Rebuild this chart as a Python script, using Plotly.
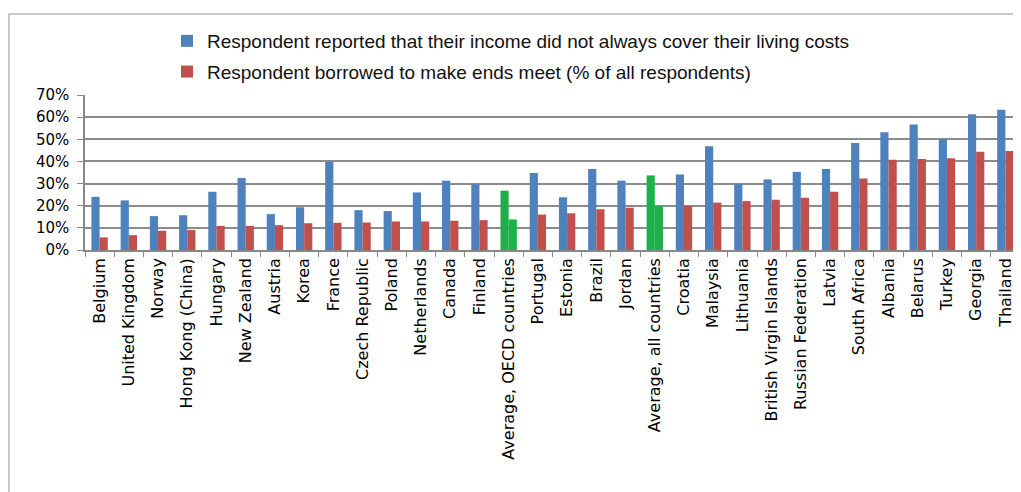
import plotly.graph_objects as go

categories = ["Belgium", "United Kingdom", "Norway", "Hong Kong (China)", "Hungary", "New Zealand",
              "Austria", "Korea", "France", "Czech Republic", "Poland", "Netherlands", "Canada",
              "Finland", "Average, OECD countries", "Portugal", "Estonia", "Brazil", "Jordan",
              "Average, all countries", "Croatia", "Malaysia", "Lithuania", "British Virgin Islands",
              "Russian Federation", "Latvia", "South Africa", "Albania", "Belarus", "Turkey",
              "Georgia", "Thailand"]
income_not_cover = [24.0, 22.4, 15.3, 15.7, 26.3, 32.5, 16.2, 19.3, 39.8, 18.0, 17.6, 26.0, 31.3,
                    29.8, 26.8, 34.8, 23.8, 36.6, 31.3, 33.7, 34.1, 46.8, 29.8, 31.9, 35.3, 36.6,
                    48.3, 53.2, 56.7, 50.0, 61.3, 63.3]
borrowed = [5.7, 6.7, 8.7, 9.0, 10.9, 10.9, 11.2, 12.1, 12.3, 12.4, 12.9, 12.9, 13.2, 13.5, 13.8,
            16.0, 16.6, 18.4, 19.1, 19.9, 19.9, 21.4, 22.1, 22.7, 23.6, 26.3, 32.3, 40.8, 41.1,
            41.4, 44.4, 44.7]
series_names = ["Respondent reported that their income did not always cover their living costs",
                "Respondent borrowed to make ends meet (% of all respondents)"]

BLUE, RED, GREEN = "#4F81BD", "#C0504D", "#1DB14B"
blue_cols = [GREEN if c.startswith("Average") else BLUE for c in categories]
red_cols = [GREEN if c.startswith("Average") else RED for c in categories]

fig = go.Figure()
fig.add_trace(go.Bar(x=categories, y=[v / 100 for v in income_not_cover], name=series_names[0],
                     marker=dict(color=blue_cols, line=dict(width=0)), legendgroup="a"))
fig.add_trace(go.Bar(x=categories, y=[v / 100 for v in borrowed], name=series_names[1],
                     marker=dict(color=red_cols, line=dict(width=0)), legendgroup="b"))

# page body has an 8px margin, so figure coords = screen coords - 8
W, H = 1013, 484
L, R, T, B = 77, 1012, 87, 242
pw, ph = R - L, B - T

def px(x):
    return (x - L) / pw

def py(y):
    return (B - y) / ph

fig.update_layout(
    width=W, height=H,
    margin=dict(l=L, r=W - R, t=T, b=H - B, autoexpand=False),
    paper_bgcolor="white", plot_bgcolor="white",
    barmode="group", bargap=0.44, bargroupgap=0,
    font=dict(family="DejaVu Sans", color="black"),
    showlegend=True,
    legend=dict(x=px(159), y=py(14), xanchor="left", yanchor="top",
                font=dict(family="Liberation Sans Narrow, Arial Narrow, Liberation Sans", size=19, color="#111"),
                tracegroupgap=3, itemwidth=30, bgcolor="rgba(0,0,0,0)"),
    xaxis=dict(type="category", tickangle=-90, tickfont=dict(size=16, family="DejaVu Sans"),
               showline=True, linecolor="#888", linewidth=1.5, ticks="outside", tickson="boundaries",
               ticklen=5, tickcolor="#888", showgrid=False),
    yaxis=dict(range=[0, 0.7], dtick=0.1, tickformat=".0%", tickfont=dict(size=15, family="DejaVu Sans"),
               showline=True, linecolor="#888", linewidth=1.5, ticks="outside", ticklen=6,
               ticklabelstandoff=5,
               tickcolor="#888", showgrid=True, gridcolor="#8c8c8c", gridwidth=1.5, zeroline=False),
    shapes=[dict(type="rect", xref="paper", yref="paper", x0=px(1), x1=px(1040), y0=py(560), y1=py(6),
                 line=dict(color="#c8c8c8", width=2), layer="below")],
)

fig.write_html("out.html")
